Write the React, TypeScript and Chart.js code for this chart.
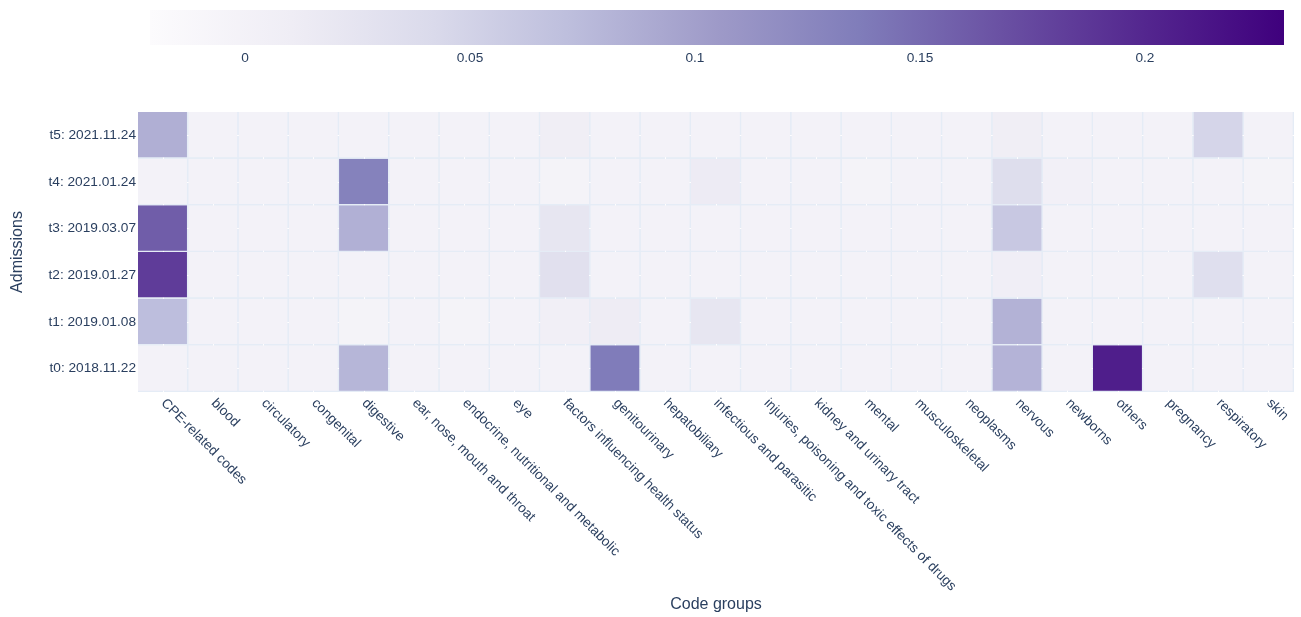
import React, { useEffect, useRef } from "react";
import { Chart, registerables } from "chart.js";

Chart.register(...registerables);

// Code groups along the x axis
const codeGroups = [
  "CPE-related codes",
  "blood",
  "circulatory",
  "congenital",
  "digestive",
  "ear, nose, mouth and throat",
  "endocrine, nutritional and metabolic",
  "eye",
  "factors influencing health status",
  "genitourinary",
  "hepatobiliary",
  "infectious and parasitic",
  "injuries, poisoning and toxic effects of drugs",
  "kidney and urinary tract",
  "mental",
  "musculoskeletal",
  "neoplasms",
  "nervous",
  "newborns",
  "others",
  "pregnancy",
  "respiratory",
  "skin",
];

// Admissions along the y axis (bottom to top)
const admissions = [
  "t0: 2018.11.22",
  "t1: 2019.01.08",
  "t2: 2019.01.27",
  "t3: 2019.03.07",
  "t4: 2021.01.24",
  "t5: 2021.11.24",
];

// Cell values per admission, one entry per code group
const t0Values = [0, 0, 0, 0, 0.08, 0, 0, 0, 0, 0.137, 0, 0, 0, 0, 0, 0, 0, 0.082, 0, 0.207, 0, 0, 0];
const t1Values = [0.072, 0, 0, 0, -0.002, 0, -0.002, 0, 0.005, 0.012, 0, 0.022, 0, 0, 0, 0, 0, 0.083, 0, 0, 0, 0, 0];
const t2Values = [0.184, 0, 0, 0, 0, 0, 0, 0, 0.032, 0, 0, 0, 0, 0, 0, 0, 0, 0.008, 0, 0, 0, 0.034, 0];
const t3Values = [0.159, 0, 0, 0, 0.085, 0, 0, 0, 0.022, 0, 0, 0, 0, 0, 0, 0, 0, 0.061, 0, 0, 0, 0, 0];
const t4Values = [0, 0, 0, 0, 0.131, 0, 0, 0, -0.002, 0, 0, 0.014, 0, 0, -0.002, 0, 0, 0.036, 0.004, 0, 0, 0, -0.002];
const t5Values = [0.086, 0, 0, 0, 0, 0, 0, 0, 0.009, 0, 0, 0, 0, 0, 0, 0, 0, 0.009, 0, 0, 0, 0.047, 0];
const rowValues = [t0Values, t1Values, t2Values, t3Values, t4Values, t5Values];

// Colour range of the scale
const zMin = -0.0211;
const zMax = 0.2309;
const colorbarTicks = [0, 0.05, 0.1, 0.15, 0.2];

// "Purples" colour scale
const PURPLES: [number, [number, number, number]][] = [
  [0, [252, 251, 253]],
  [0.125, [239, 237, 245]],
  [0.25, [218, 218, 235]],
  [0.375, [188, 189, 220]],
  [0.5, [158, 154, 200]],
  [0.625, [128, 125, 186]],
  [0.75, [106, 81, 163]],
  [0.875, [84, 39, 143]],
  [1, [63, 0, 125]],
];

const FONT = '"Liberation Sans", Arial, sans-serif';
const TEXT = "#2a3f5f";
const PLOT_BG = "#E5ECF6";

function valueToColor(v: number): string {
  const t = Math.max(0, Math.min(1, (v - zMin) / (zMax - zMin)));
  for (let i = 1; i < PURPLES.length; i++) {
    const [p1, c1] = PURPLES[i];
    const [p0, c0] = PURPLES[i - 1];
    if (t <= p1) {
      const f = (t - p0) / (p1 - p0);
      const c = c0.map((a, k) => Math.round(a + (c1[k] - a) * f));
      return `rgb(${c[0]},${c[1]},${c[2]})`;
    }
  }
  const l = PURPLES[PURPLES.length - 1][1];
  return `rgb(${l[0]},${l[1]},${l[2]})`;
}

const plotBackground = {
  id: "plotBackground",
  beforeDraw(chart: any) {
    const { ctx, chartArea } = chart;
    ctx.save();
    ctx.fillStyle = PLOT_BG;
    ctx.fillRect(chartArea.left, chartArea.top, chartArea.width, chartArea.height);
    ctx.restore();
  },
};

// Category labels drawn at 45 degrees, reading downward from each tick
const slantedXLabels = {
  id: "slantedXLabels",
  afterDraw(chart: any) {
    const { ctx, chartArea } = chart;
    const xs = chart.scales.x;
    ctx.save();
    ctx.font = `13.7px ${FONT}`;
    ctx.fillStyle = TEXT;
    ctx.textAlign = "left";
    ctx.textBaseline = "middle";
    codeGroups.forEach((label, i) => {
      const x = xs.getPixelForValue(i);
      ctx.save();
      ctx.translate(x, chartArea.bottom + 9);
      ctx.rotate(Math.PI / 4);
      ctx.fillText(label, 0, 0);
      ctx.restore();
    });
    ctx.restore();
  },
};

export default function App() {
  const barRef = useRef<HTMLCanvasElement>(null);
  const mapRef = useRef<HTMLCanvasElement>(null);

  useEffect(() => {
    Chart.defaults.font.family = FONT;

    const colorbar = new Chart(barRef.current!, {
      type: "bar",
      data: {
        labels: [""],
        datasets: [
          {
            data: [[zMin, zMax]] as any,
            backgroundColor: (c: any) => {
              const area = c.chart.chartArea;
              if (!area) return valueToColor(zMax);
              const g = c.chart.ctx.createLinearGradient(area.left, 0, area.right, 0);
              PURPLES.forEach(([p, rgb]) => g.addColorStop(p, `rgb(${rgb[0]},${rgb[1]},${rgb[2]})`));
              return g;
            },
            borderWidth: 0,
            barPercentage: 1,
            categoryPercentage: 1,
            inflateAmount: 0,
          } as any,
        ],
      },
      options: {
        indexAxis: "y",
        responsive: false,
        animation: false,
        layout: { padding: { left: 150, right: 17, top: 10, bottom: 8.5 } },
        plugins: { legend: { display: false }, tooltip: { enabled: false } },
        scales: {
          x: {
            type: "linear",
            min: zMin,
            max: zMax,
            afterBuildTicks: (s: any) => {
              s.ticks = colorbarTicks.map((v) => ({ value: v }));
            },
            grid: { display: false, drawTicks: false },
            border: { display: false },
            ticks: {
              padding: 5,
              color: TEXT,
              font: { size: 13.7, family: FONT },
              callback: (v: any) => String(Number(Number(v).toFixed(2))),
            },
          },
          y: { display: false },
        },
      } as any,
    });

    const heatmap = new Chart(mapRef.current!, {
      type: "bar",
      data: {
        labels: codeGroups,
        datasets: admissions.map((name, r) => ({
          label: name,
          data: codeGroups.map(() => [r, r + 1]),
          backgroundColor: rowValues[r].map(valueToColor),
          borderColor: "rgba(0,0,0,0)",
          borderWidth: { top: 0, left: 0, right: 1.3, bottom: 1.3 },
          borderSkipped: false,
          inflateAmount: 0,
          barPercentage: 1,
          categoryPercentage: 1,
          grouped: false,
        })) as any,
      },
      options: {
        responsive: false,
        animation: false,
        layout: { padding: { left: 7.5, right: 7, top: 32, bottom: 2.4 } },
        plugins: { legend: { display: false }, tooltip: { enabled: false } },
        scales: {
          x: {
            type: "category",
            offset: true,
            grid: { color: "#ffffff", lineWidth: 1, offset: false, drawTicks: false },
            border: { display: false },
            ticks: { display: false, autoSkip: false },
            title: {
              display: true,
              text: "Code groups",
              color: TEXT,
              font: { size: 16, family: FONT },
              padding: 0,
            },
            afterFit: (s: any) => {
              s.height = 222.6;
            },
          },
          y: {
            type: "linear",
            min: 0,
            max: 6,
            afterBuildTicks: (s: any) => {
              s.ticks = admissions.map((_, i) => ({ value: i + 0.5 }));
            },
            grid: { color: "#ffffff", lineWidth: 1, drawTicks: false },
            border: { display: false },
            ticks: {
              padding: 2,
              color: TEXT,
              font: { size: 13.7, family: FONT },
              callback: (v: any) => admissions[Math.floor(Number(v))],
            },
            title: {
              display: true,
              text: "Admissions",
              color: TEXT,
              font: { size: 16, family: FONT },
              padding: 0,
            },
            afterFit: (s: any) => {
              s.width = 130.5;
            },
          },
        },
      } as any,
      plugins: [plotBackground, slantedXLabels],
    });

    return () => {
      colorbar.destroy();
      heatmap.destroy();
    };
  }, []);

  return (
    <div
      style={{
        position: "fixed",
        left: 0,
        top: 0,
        width: 1301,
        height: 617,
        background: "#ffffff",
      }}
    >
      <canvas
        ref={barRef}
        width={1301}
        height={80}
        style={{ position: "absolute", left: 0, top: 0, display: "block" }}
      />
      <canvas
        ref={mapRef}
        width={1301}
        height={537}
        style={{ position: "absolute", left: 0, top: 80, display: "block" }}
      />
    </div>
  );
}
